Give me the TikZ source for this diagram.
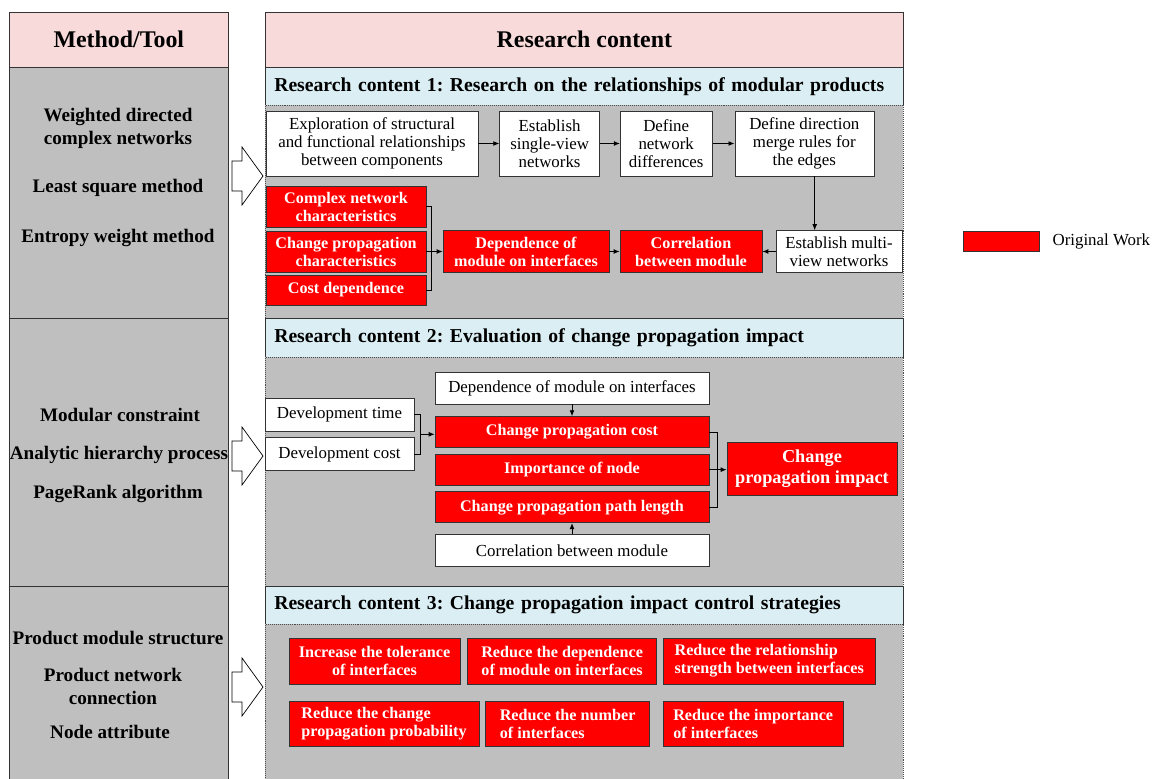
\documentclass[tikz,border=0pt]{standalone}
\usepackage{fontspec}
\setmainfont{Liberation Serif}
\usepackage{xcolor}
\usetikzlibrary{arrows.meta, positioning, calc}

\definecolor{headpink}{HTML}{F8DADA}
\definecolor{headblue}{HTML}{DAEEF3}
\definecolor{panelgray}{HTML}{BFBFBF}
\frenchspacing

\begin{document}
\begin{tikzpicture}[
    x=0.025cm, y=-0.025cm,
    node distance=0.15cm,
    txt/.style={font=\fontsize{12}{12.8}\selectfont, align=center, inner sep=1pt},
    wbox/.style={rectangle, draw=black!80, fill=white, txt},
    rbox/.style={rectangle, draw=black!80, fill=red, text=white, align=center, inner sep=1pt, font=\fontsize{11.5}{12.8}\selectfont\bfseries},
    pinkhead/.style={rectangle, draw=black!80, fill=headpink, anchor=north west, font=\fontsize{17}{20}\selectfont\bfseries},
    bluehead/.style={rectangle, draw=black!80, fill=headblue, anchor=north west, text width=15.5cm, inner xsep=0.225cm, align=left, font=\fontsize{14}{16}\selectfont\bfseries},
    panel/.style={rectangle, draw=black!80, fill=panelgray, anchor=north west},
    rpanel/.style={rectangle, draw=black!70, densely dotted, fill=panelgray, anchor=north west},
    tool/.style={align=center, font=\fontsize{13.6}{16.4}\selectfont\bfseries},
    arrow/.style={-{Latex[length=1.5mm, width=1.2mm]}, line width=0.6pt},
    bracket/.style={line width=0.6pt}
]
\useasboundingbox (0,0) rectangle (1156,778);

% Method/Tool column
\node[pinkhead, minimum width=5.475cm, minimum height=1.375cm] (mhead) at (9,12) {Method/Tool};
\node[panel, minimum width=5.475cm, minimum height=6.275cm] (mbody1) at (9,67) {};
\node[panel, minimum width=5.475cm, minimum height=6.7cm] (mbody2) at (9,318) {};
\node[panel, minimum width=5.475cm, minimum height=5cm] (mbody3) at (9,586) {};

\node[tool] (t11) at (118,128) {Weighted directed\\complex networks};
\node[tool] (t12) at (118,188) {Least square method};
\node[tool] (t13) at (118,238) {Entropy weight method};
\node[tool] (t21) at (120,415) {Modular constraint};
\node[tool] (t22) at (119,455) {Analytic hierarchy process};
\node[tool] (t23) at (118,494) {PageRank algorithm};
\node[tool] (t31) at (118,638) {Product module structure};
\node[tool] (t32) at (113,686) {Product network\\connection};
\node[tool] (t33) at (110,732) {Node attribute};

% Hollow arrows
\foreach \y in {176,456,687} {
    \draw[fill=white, line width=0.5pt] (232,\y-15) -- (242,\y-15) -- (242,\y-29) -- (263,\y)
        -- (242,\y+29) -- (242,\y+15) -- (232,\y+15) -- cycle;
}

% Research content column
\node[pinkhead, minimum width=15.95cm, minimum height=1.375cm] (rhead) at (265,12) {Research content};
\node[bluehead, minimum height=0.95cm] (s1head) at (265,67) {Research content 1: Research on the relationships of modular products};
\node[rpanel, minimum width=15.95cm, minimum height=5.325cm] (s1body) at (265,105) {};
\node[bluehead, minimum height=0.975cm] (s2head) at (265,318) {Research content 2: Evaluation of change propagation impact};
\node[rpanel, minimum width=15.95cm, minimum height=5.725cm] (s2body) at (265,357) {};
\node[bluehead, minimum height=0.95cm] (s3head) at (265,586) {Research content 3: Change propagation impact control strategies};
\node[rpanel, minimum width=15.95cm, minimum height=4.05cm] (s3body) at (265,624) {};

% Research content 1
\node[wbox, minimum width=5.3cm, minimum height=1.625cm] (explore) at (372,143.5) {Exploration of structural\\and functional relationships\\between components};
\node[wbox, minimum width=2.5cm, minimum height=1.625cm, right=0.525cm of explore] (single) {Establish\\single-view\\networks};
\node[wbox, minimum width=2.3cm, minimum height=1.625cm, right=0.5cm of single] (differ) {Define\\network\\differences};
\node[wbox, minimum width=3.475cm, minimum height=1.625cm, right=0.55cm of differ] (merge) {Define direction\\merge rules for\\the edges};

\node[rbox, minimum width=4cm, minimum height=1.025cm] (cnc) at (346,206.5) {Complex network\\characteristics};
\node[rbox, minimum width=4cm, minimum height=1.025cm] (cpch) at (346,251.5) {Change propagation\\characteristics};
\node[rbox, minimum width=4cm, minimum height=0.75cm] (costdep) at (346,290) {Cost dependence};
\node[rbox, minimum width=4.15cm, minimum height=1.05cm] (depmod) at (526,251.5) {Dependence of\\module on interfaces};
\node[rbox, minimum width=3.55cm, minimum height=1.05cm] (corr) at (691,251.5) {Correlation\\between module};
\node[wbox, minimum width=3.15cm, minimum height=1.05cm] (multi) at (839,251.5) {Establish multi-\\view networks};

\draw[arrow] (explore) -- (single);
\draw[arrow] (single) -- (differ);
\draw[arrow] (differ) -- (merge);
\coordinate (mdown) at ([xshift=0.26cm]merge.south);
\draw[arrow] (mdown) -- (mdown |- multi.north);
\draw[arrow] (multi) -- (corr);
\draw[arrow] (depmod) -- (corr);
\draw[bracket] (cnc.east) -- ++(0.125cm,0) |- (costdep.east);
\draw[arrow] (cpch.east) -- (depmod.west);

% Research content 2
\node[wbox, minimum width=6.85cm, minimum height=0.8cm] (dmi) at (572,388) {Dependence of module on interfaces};
\node[rbox, minimum width=6.85cm, minimum height=0.775cm, below=0.3cm of dmi] (cpcost) {Change propagation cost};
\node[rbox, minimum width=6.85cm, minimum height=0.775cm, below=of cpcost] (impnode) {Importance of node};
\node[rbox, minimum width=6.85cm, minimum height=0.775cm, below=of impnode] (pathlen) {Change propagation path length};
\node[wbox, minimum width=6.85cm, minimum height=0.8cm, below=0.275cm of pathlen] (cbm) {Correlation between module};
\node[wbox, minimum width=3.725cm, minimum height=0.825cm] (devtime) at (339.5,414.5) {Development time};
\node[wbox, minimum width=3.725cm, minimum height=0.825cm, below=of devtime] (devcost) {Development cost};
\node[rbox, minimum width=4.25cm, minimum height=1.325cm, font=\fontsize{13}{14.5}\selectfont\bfseries] (cpi) at (812,468.5) {Change\\propagation impact};

\draw[arrow] (dmi) -- (cpcost);
\draw[arrow] (cbm) -- (pathlen);
\draw[bracket] (devtime.east) -- ++(0.15cm,0) |- (devcost.east);
\coordinate (lb) at ($(devtime.east)!0.5!(devcost.east)+(0.15cm,0)$);
\draw[arrow] (lb) -- (lb -| cpcost.west);
\draw[bracket] (cpcost.east) -- ++(0.2cm,0) |- (pathlen.east);
\draw[arrow] (impnode.east) -- (impnode.east -| cpi.west);

% Research content 3
\node[rbox, minimum width=4.275cm, minimum height=1.15cm] (tol) at (374.5,661) {Increase the tolerance\\of interfaces};
\node[rbox, minimum width=4.725cm, minimum height=1.15cm, right=0.175cm of tol] (rdep) {Reduce the dependence\\of module on interfaces};
\node[rbox, minimum width=5.3cm, minimum height=1.15cm, right=of rdep, align=left] (rrel) {Reduce the relationship\\strength between interfaces};
\node[rbox, minimum width=4.75cm, minimum height=1.125cm, align=left] (rprob) at (384,723.5) {Reduce the change\\propagation probability};
\node[rbox, minimum width=4.1cm, minimum height=1.125cm, right=of rprob, align=left] (rnum) {Reduce the number\\of interfaces};
\node[rbox, minimum width=4.5cm, minimum height=1.125cm, right=0.325cm of rnum, align=left] (rimp) {Reduce the importance\\of interfaces};

% Legend
\node[rbox, minimum width=1.9cm, minimum height=0.5cm] (legbox) at (1001,241) {};
\node[txt, right=0.29cm of legbox] (legtext) {Original Work};

\end{tikzpicture}
\end{document}
